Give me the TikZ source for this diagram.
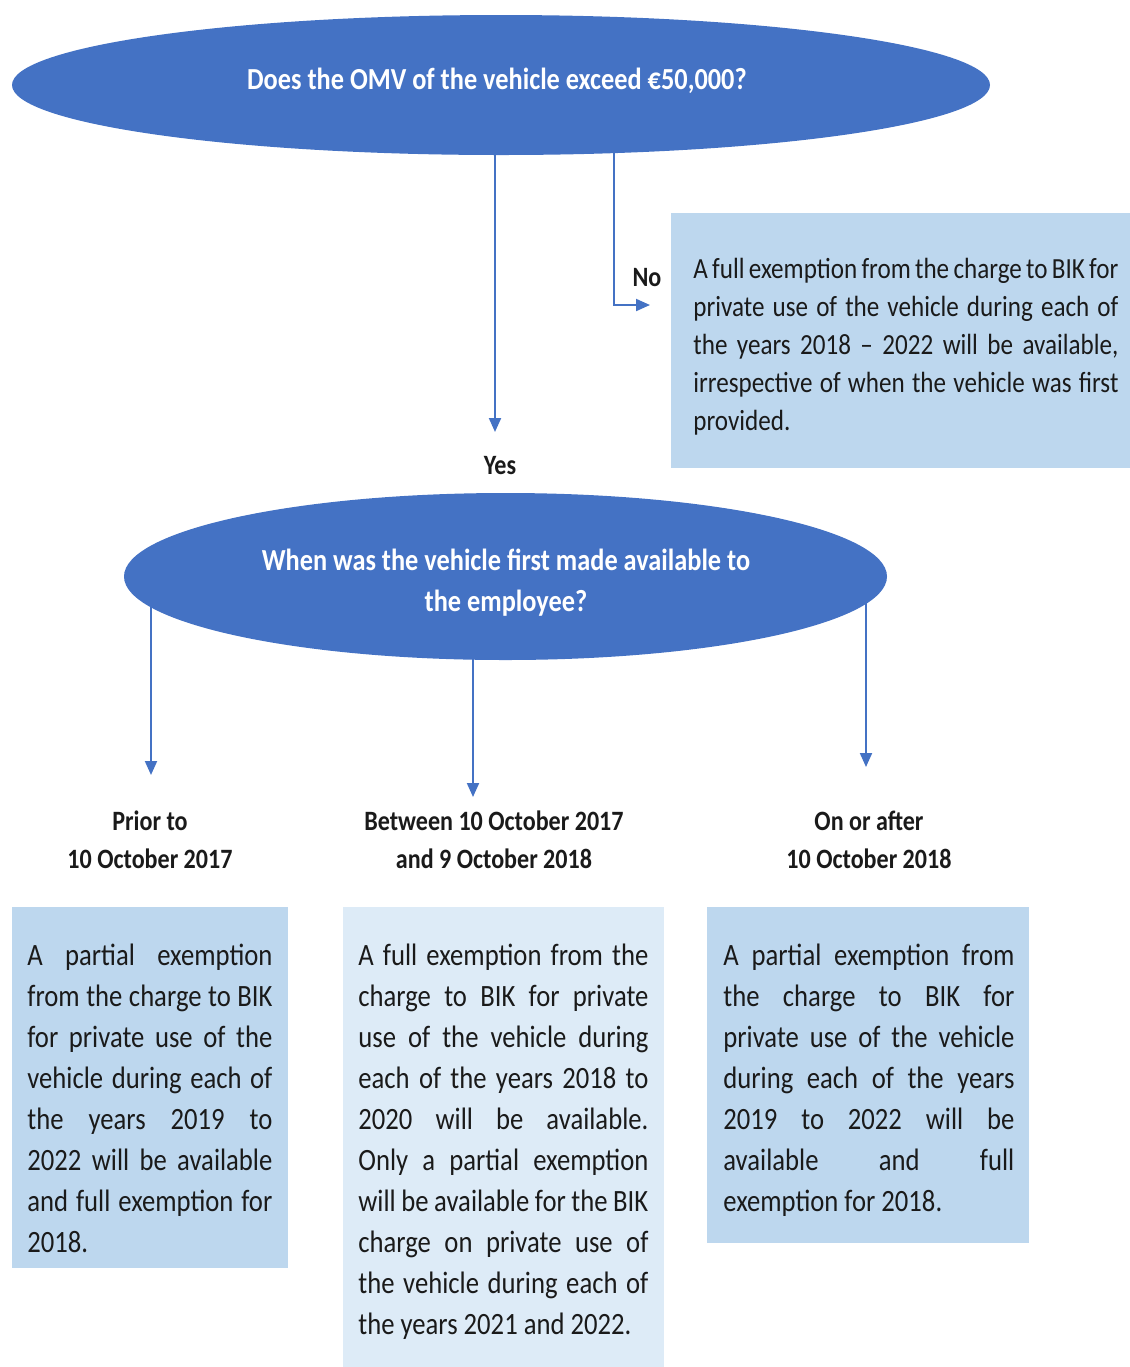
\documentclass[tikz,border=0pt]{standalone}
\usepackage{fontspec}
\setmainfont[FakeStretch=0.86]{Carlito}
\usetikzlibrary{shapes.geometric,arrows.meta,backgrounds}
\definecolor{dblue}{HTML}{4472C4}
\definecolor{lblue}{HTML}{BDD7EE}
\definecolor{pblue}{HTML}{DDEBF7}
\definecolor{txt}{HTML}{1A1A1A}
\newcommand\JL[1]{\hbox to \hsize{\spaceskip=.226em plus 1fil minus .08em #1}}
\newcommand\LL[1]{\hbox to \hsize{#1\hfill}}
\newcommand\tblock[3]{\vtop{\hsize=#1\baselineskip=#2\relax #3}}
\tikzset{
  oval/.style={ellipse, fill=dblue, draw=none, inner sep=0pt},
  ovaltext/.style={inner sep=0pt, text=white, align=center,
    font=\fontsize{15.3}{20.5}\selectfont\bfseries},
  rectbox/.style={rectangle, draw=none, inner sep=0pt, anchor=north west},
  boxtext/.style={anchor=base west, inner sep=0pt, text=txt, font=\fontsize{15.5}{20.5}\selectfont},
  lab/.style={inner sep=0pt, text=txt, align=center, font=\fontsize{14}{19}\selectfont\bfseries},
  arr/.style={draw=dblue, line width=1pt, -{Triangle[length=7pt,width=6pt]}},
}
\begin{document}
\begin{tikzpicture}[x=0.5pt,y=0.5pt]
\useasboundingbox (0,0) rectangle (1130,-1367);
% decisions
\node[oval, minimum width=489pt, minimum height=70pt] (e1) at (501,-85) {};
\node[ovaltext] (e1t) at (497,-81) {Does the OMV of the vehicle exceed €50,000?};
\node[oval, minimum width=381.5pt, minimum height=83.5pt] (e2) at (505.5,-576.5) {};
\node[ovaltext] (e2t) at (506,-583) {When was the vehicle first made available to\\the employee?};
% boxes
\node[rectbox, fill=lblue, minimum width=229.5pt, minimum height=127.5pt] (boxno) at (671,-213) {};
\node[rectbox, fill=lblue, minimum width=138pt, minimum height=180.5pt] (box1) at (12,-907) {};
\node[rectbox, fill=pblue, minimum width=160.5pt, minimum height=230pt] (box2) at (343,-907) {};
\node[rectbox, fill=lblue, minimum width=161pt, minimum height=168pt] (box3) at (707,-907) {};
% box texts
\node[boxtext, font=\fontsize{14.6}{19}\selectfont] (tno) at (693,-278) {\tblock{212.5pt}{19pt}{%
\JL{A full exemption from the charge to BIK for}
\JL{private use of the vehicle during each of}
\JL{the years 2018 – 2022 will be available,}
\JL{irrespective of when the vehicle was first}
\LL{provided.}}};
\node[boxtext] (t1) at (27,-965) {\tblock{122.5pt}{20.5pt}{%
\JL{A partial exemption}
\JL{from the charge to BIK}
\JL{for private use of the}
\JL{vehicle during each of}
\JL{the years 2019 to}
\JL{2022 will be available}
\JL{and full exemption for}
\LL{2018.}}};
\node[boxtext] (t2) at (358,-965) {\tblock{145pt}{20.5pt}{%
\JL{A full exemption from the}
\JL{charge to BIK for private}
\JL{use of the vehicle during}
\JL{each of the years 2018 to}
\JL{2020 will be available.}
\JL{Only a partial exemption}
\JL{will be available for the BIK}
\JL{charge on private use of}
\JL{the vehicle during each of}
\LL{the years 2021 and 2022.}}};
\node[boxtext] (t3) at (723,-965) {\tblock{145.5pt}{20.5pt}{%
\JL{A partial exemption from}
\JL{the charge to BIK for}
\JL{private use of the vehicle}
\JL{during each of the years}
\JL{2019 to 2022 will be}
\JL{available and full}
\LL{exemption for 2018.}}};
% labels
\node[lab] (lyes) at (500,-466) {Yes};
\node[lab] (lno) at (647,-278) {No};
\node[lab] (lab1) at (150,-840) {Prior to\\10 October 2017};
\node[lab] (lab2) at (494,-840) {Between 10 October 2017\\and 9 October 2018};
\node[lab] (lab3) at (869,-840) {On or after\\10 October 2018};
% connector ends
\coordinate (yesend) at (495,-432);
\coordinate (nocorner) at (614,-305);
\coordinate (noend) at (650,-305);
\coordinate (a1) at (151,-775);
\coordinate (a2) at (473,-797);
\coordinate (a3) at (866,-767);
\begin{scope}[on background layer]
\draw[arr] (e1.center -| yesend) -- (yesend);
\draw[arr] (e1.center -| nocorner) -- (nocorner) -- (noend);
\draw[arr] (e2.center -| a1) -- (a1);
\draw[arr] (e2.center -| a2) -- (a2);
\draw[arr] (e2.center -| a3) -- (a3);
\end{scope}
\end{tikzpicture}
\end{document}
